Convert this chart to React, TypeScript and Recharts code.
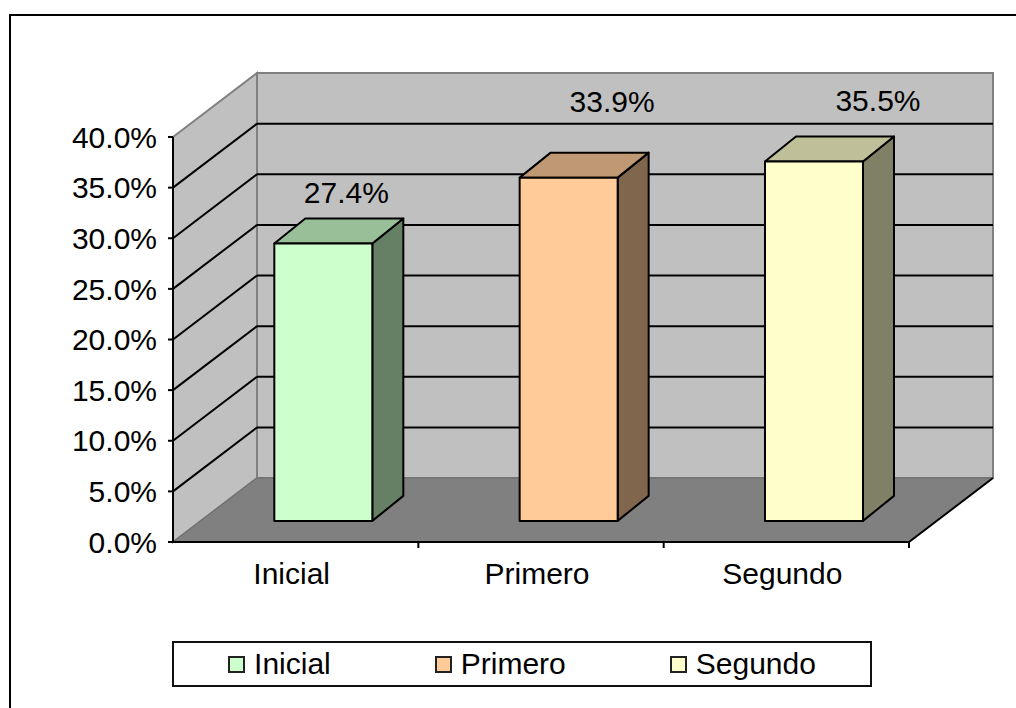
import React from "react";
import {
  BarChart,
  Bar,
  Cell,
  XAxis,
  YAxis,
  LabelList,
  ReferenceArea,
  ReferenceLine,
} from "recharts";

const CATEGORIES = ["Inicial", "Primero", "Segundo"];
const VALUES = [0.274, 0.339, 0.355];
const COLORS = ["#CCFFCC", "#FFCC99", "#FFFFCC"];
const Y_TICKS = [0, 0.05, 0.1, 0.15, 0.2, 0.25, 0.3, 0.35, 0.4];

const data = CATEGORIES.map((name, i) => ({ name, value: VALUES[i] }));

const FONT = "'Liberation Sans', Arial, sans-serif";

// 3D projection of the plot box
const DEPTH_X = 84;
const DEPTH_Y = -64;
// bars sit a third of the way into the box, with their own depth
const BAR_Z = 0.33;
const BAR_DX = 31;
const BAR_DY = -25;

const fmtPct = (v: number) => `${(v * 100).toFixed(1)}%`;

function shade(hex: string, k: number) {
  const n = parseInt(hex.slice(1), 16);
  const r = Math.round(((n >> 16) & 255) * k);
  const g = Math.round(((n >> 8) & 255) * k);
  const b = Math.round((n & 255) * k);
  return `rgb(${r},${g},${b})`;
}

function Walls(props: any) {
  const { x, y, width, height } = props;
  const bx = x + DEPTH_X;
  const by = y + DEPTH_Y;
  const fy = y + height;
  return (
    <g>
      <rect x={bx} y={by} width={width} height={height} fill="#C0C0C0" stroke="#808080" strokeWidth={2} />
      <polygon
        points={`${x},${y} ${bx},${by} ${bx},${by + height} ${x},${fy}`}
        fill="#C0C0C0"
        stroke="#808080"
        strokeWidth={2}
      />
      <polygon
        points={`${x},${fy} ${x + width},${fy} ${bx + width},${by + height} ${bx},${by + height}`}
        fill="#808080"
        stroke="#6a6a6a"
        strokeWidth={1}
      />
      <line x1={x + width} y1={fy} x2={bx + width} y2={by + height} stroke="#000" strokeWidth={2} />
    </g>
  );
}

function GridShape(props: any) {
  const { x1, y1, x2, y2 } = props;
  return (
    <g>
      <line x1={x1} y1={y1} x2={x1 + DEPTH_X} y2={y1 + DEPTH_Y} stroke="#000" strokeWidth={2} />
      <line x1={x1 + DEPTH_X} y1={y1 + DEPTH_Y} x2={x2 + DEPTH_X} y2={y2 + DEPTH_Y} stroke="#000" strokeWidth={2} />
    </g>
  );
}

function Bar3D(props: any) {
  const { x, y, width, height, fill } = props;
  if (!height || width <= 0) return null;
  const fx = x + DEPTH_X * BAR_Z;
  const fy = y + DEPTH_Y * BAR_Z;
  const top = `${fx},${fy} ${fx + width},${fy} ${fx + width + BAR_DX},${fy + BAR_DY} ${fx + BAR_DX},${fy + BAR_DY}`;
  const side = `${fx + width},${fy} ${fx + width + BAR_DX},${fy + BAR_DY} ${fx + width + BAR_DX},${fy + height + BAR_DY} ${fx + width},${fy + height}`;
  return (
    <g stroke="#000" strokeWidth={2} strokeLinejoin="round">
      <polygon points={side} fill={shade(fill, 0.5)} />
      <polygon points={top} fill={shade(fill, 0.75)} />
      <rect x={fx} y={fy} width={width} height={height} fill={fill} />
    </g>
  );
}

// Excel drifts its 3D data labels up and to the right, capped under the wall top
function ValueLabel(props: any) {
  const { x, y, width, value, index } = props;
  const cx = x + DEPTH_X * BAR_Z + width / 2 + 23 + index * 20.5;
  const topY = y + DEPTH_Y * BAR_Z;
  const ly = Math.max(topY - 51 - index * 25, 100);
  return (
    <text x={cx} y={ly} dy="0.355em" textAnchor="middle" fontFamily={FONT} fontSize={30} fill="#000">
      {fmtPct(value)}
    </text>
  );
}

function CategoryTick(props: any) {
  const { x, y, payload, width, visibleTicksCount } = props;
  const band = width && visibleTicksCount ? width / visibleTicksCount : 245.3;
  return (
    <g>
      <text x={x - 4} y={y} dy="0.71em" textAnchor="middle" fontFamily={FONT} fontSize={30} fill="#000">
        {payload.value}
      </text>
      <line x1={x + band / 2} y1={y - 21} x2={x + band / 2} y2={y - 15} stroke="#000" strokeWidth={2} />
    </g>
  );
}

function Legend3D() {
  return (
    <div
      style={{
        position: "absolute",
        left: 172,
        top: 641,
        width: 700,
        height: 46,
        boxSizing: "border-box",
        border: "2px solid #111",
        background: "#fff",
        display: "flex",
        alignItems: "center",
        justifyContent: "center",
        gap: 104,
        fontFamily: FONT,
        fontSize: 30,
        color: "#000",
      }}
    >
      {CATEGORIES.map((c, i) => (
        <div key={c} style={{ display: "flex", alignItems: "center", gap: 9 }}>
          <span
            style={{
              width: 17,
              height: 17,
              boxSizing: "border-box",
              border: "2px solid #222",
              background: COLORS[i],
              display: "inline-block",
            }}
          />
          <span style={{ lineHeight: "30px" }}>{c}</span>
        </div>
      ))}
    </div>
  );
}

export default function App() {
  return (
    <div style={{ position: "absolute", left: 0, top: 0, width: 1016, height: 708, overflow: "hidden", background: "#fff" }}>
      <div
        style={{
          position: "absolute",
          left: 9,
          top: 14,
          width: 1040,
          height: 740,
          borderTop: "2px solid #000",
          borderLeft: "2px solid #000",
        }}
      />
      <div style={{ position: "absolute", left: 0, top: 0 }}>
        <BarChart
          width={1016}
          height={708}
          data={data}
          margin={{ top: 137, right: 107, bottom: 126, left: 53 }}
          barCategoryGap="30%"
        >
          <ReferenceArea y1={0} y2={0.4} shape={(p: any) => <Walls {...p} />} zIndex={-90} />
          {Y_TICKS.slice(1, -1).map((t) => (
            <ReferenceLine key={t} y={t} shape={(p: any) => <GridShape {...p} />} zIndex={-80} />
          ))}
          <XAxis
            dataKey="name"
            height={40}
            tickLine={false}
            tickSize={5}
            tickMargin={16}
            axisLine={{ stroke: "#000", strokeWidth: 2 }}
            tick={(p: any) => <CategoryTick {...p} />}
            interval={0}
          />
          <YAxis
            domain={[0, 0.4]}
            ticks={Y_TICKS}
            interval={0}
            width={120}
            tickSize={5}
            tickMargin={11}
            tickFormatter={fmtPct}
            axisLine={{ stroke: "#000", strokeWidth: 2 }}
            tickLine={{ stroke: "#000", strokeWidth: 2 }}
            tick={{ fill: "#000", fontSize: 30, fontFamily: FONT }}
          />
          <Bar dataKey="value" shape={(p: any) => <Bar3D {...p} />} isAnimationActive={false}>
            {data.map((d, i) => (
              <Cell key={d.name} fill={COLORS[i]} />
            ))}
            <LabelList dataKey="value" content={(p: any) => <ValueLabel {...p} />} />
          </Bar>
        </BarChart>
      </div>
      <Legend3D />
    </div>
  );
}
